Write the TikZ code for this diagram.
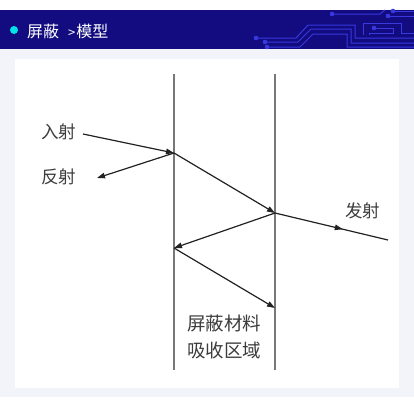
\documentclass[tikz,border=0pt]{standalone}
\usepackage{fontspec}
\setmainfont{Noto Sans CJK SC}
\usetikzlibrary{arrows.meta,decorations.markings}
\definecolor{banner}{RGB}{18,12,128}
\definecolor{circ}{RGB}{56,56,222}
\definecolor{pagebg}{RGB}{243,244,250}
\definecolor{wall}{RGB}{120,120,120}
\definecolor{ray}{RGB}{34,34,34}
\definecolor{lbl}{RGB}{60,60,60}
\definecolor{dotcyan}{RGB}{0,226,230}
\tikzset{
  wallline/.style={draw=wall, line width=1.4pt},
  rayline/.style={draw=ray, line width=1.2pt},
  rayarrow/.style={rayline, -{Stealth[length=8pt,width=5.5pt,inset=0pt]}},
  lab/.style={text=lbl, font=\fontsize{17.5}{21}\selectfont, inner sep=0pt},
  circuit/.style={draw=circ, line width=1pt},
  cdot/.style={fill=circ, draw=none},
}
\begin{document}
\begin{tikzpicture}[x=1pt,y=-1pt]
\useasboundingbox (0,0) rectangle (414,408);
% backgrounds
\fill[white] (0,0) rectangle (414,408);
\fill[pagebg] (0,49) rectangle (414,397);
\fill[white] (15,59) rectangle (399,388);
% banner
\fill[banner] (0,10) rectangle (414,49);
\fill[dotcyan] (14,30) circle (4);
\node[anchor=west, text=white, font=\fontsize{16}{18}\selectfont, inner sep=0pt] (title) at (27,31) {屏蔽\hspace{9pt}{\fontsize{13}{16}\selectfont >}\hspace{1pt}模型};
% circuit decoration
\begin{scope}
\draw[circuit] (256,38) -- (296,38) -- (308,25) -- (355,25) -- (355,38) -- (414,38);
\draw[circuit] (265,42) -- (298,42) -- (311,29) -- (351,29) -- (351,43) -- (414,43);
\draw[circuit] (267,47) -- (300,47) -- (313,34) -- (347,34) -- (347,47) -- (414,47);
\draw[circuit] (363,35) -- (363,23) -- (401,23) -- (401,33) -- (414,33);
\draw[circuit] (374,28) -- (393,28) -- (393,33) -- (369,33) -- (369,35);
\draw[circuit] (332,14) -- (380,14) -- (385,10);
\draw[circuit] (388,16) -- (414,16);
\draw[circuit] (393,11) -- (414,11);
\fill[cdot] (256,38) circle (2.3);
\fill[cdot] (265,42) circle (2.3);
\fill[cdot] (267,47) circle (2.3);
\fill[cdot] (332,14) circle (2.3);
\fill[cdot] (388,16) circle (2.3);
\fill[cdot] (393,11) circle (2.3);
\fill[cdot] (374,28) circle (2.3);
\end{scope}
% walls
\coordinate (wlt) at (174,74);
\coordinate (wlb) at (174,370);
\coordinate (wrt) at (275,74);
\coordinate (wrb) at (275,370);
\draw[wallline] (wlt) -- (wlb);
\draw[wallline] (wrt) -- (wrb);
% ray points
\coordinate (p1) at (174,153);
\coordinate (p2) at (275,213);
\coordinate (p3) at (174,248);
\coordinate (p4) at (275,308);
\coordinate (rend) at (97,178);
\coordinate (tend) at (388,240);
% labels
\node[lab, anchor=west] (in) at (41,132) {入射};
\node[lab, anchor=west] (refl) at (41,177) {反射};
\node[lab, anchor=west] (out) at (345,211) {发射};
\node[lab, align=center, font=\fontsize{18.5}{27}\selectfont] (abs) at (224,337) {屏蔽材料\\吸收区域};
% rays
\coordinate (inst) at (83,134);
\draw[rayarrow] (inst) -- (p1);
\draw[rayarrow] (p1) -- (rend);
\draw[rayarrow] (p1) -- (p2);
\draw[rayarrow] (p2) -- (p3);
\draw[rayarrow] (p3) -- (p4);
\draw[rayline, postaction={decorate}, decoration={markings, mark=at position 0.6 with {\arrow{Stealth[length=8pt,width=5.5pt,inset=0pt]}}}] (p2) -- (tend);
\end{tikzpicture}
\end{document}
